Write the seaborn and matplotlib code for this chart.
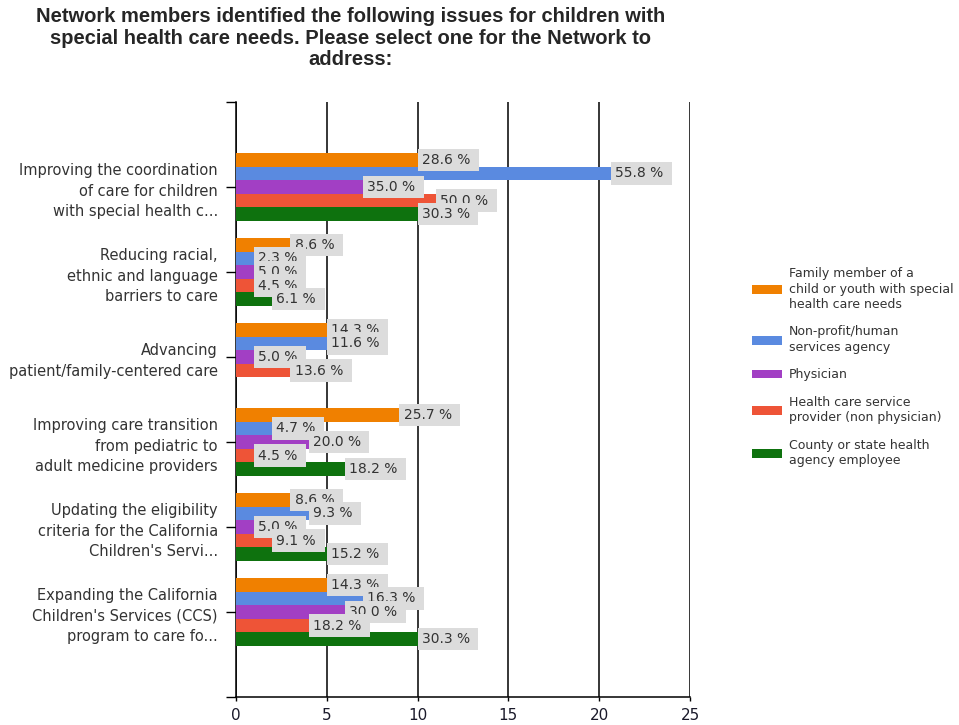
import pandas as pd
import seaborn as sns
import matplotlib.pyplot as plt
from matplotlib.patches import Patch

###########################################################################
# data (bar length = respondent count, label = % of role)

issues = [
    "Improving the coordination\nof care for children\nwith special health c...",
    "Reducing racial,\nethnic and language\nbarriers to care",
    "Advancing\npatient/family-centered care",
    "Improving care transition\nfrom pediatric to\nadult medicine providers",
    "Updating the eligibility\ncriteria for the California\nChildren's Servi...",
    "Expanding the California\nChildren's Services (CCS)\nprogram to care fo...",
]
roles = [
    "Family member of a\nchild or youth with special\nhealth care needs",
    "Non-profit/human\nservices agency",
    "Physician",
    "Health care service\nprovider (non physician)",
    "County or state health\nagency employee",
]
family_counts = [10, 3, 5, 9, 3, 5]
nonprofit_counts = [24, 1, 5, 2, 4, 7]
physician_counts = [7, 1, 1, 4, 1, 6]
provider_counts = [11, 1, 3, 1, 2, 4]
county_counts = [10, 2, 0, 6, 5, 10]

family_pct = [28.6, 8.6, 14.3, 25.7, 8.6, 14.3]
nonprofit_pct = [55.8, 2.3, 11.6, 4.7, 9.3, 16.3]
physician_pct = [35.0, 5.0, 5.0, 20.0, 5.0, 30.0]
provider_pct = [50.0, 4.5, 13.6, 4.5, 9.1, 18.2]
county_pct = [30.3, 6.1, 0.0, 18.2, 15.2, 30.3]

colors = ["#F08000", "#5A8AE0", "#A23FC4", "#EE5437", "#0E720E"]
x_ticks = [0, 5, 10, 15, 20, 25]

title = ("Network members identified the following issues for children with\n"
         "special health care needs. Please select one for the Network to\n"
         "address:")

###########################################################################

def main():
    all_counts = [family_counts, nonprofit_counts, physician_counts, provider_counts, county_counts]
    all_pct = [family_pct, nonprofit_pct, physician_pct, provider_pct, county_pct]

    rows = []
    for r, role in enumerate(roles):
        for i, issue in enumerate(issues):
            rows.append({"issue": issue, "role": role, "count": all_counts[r][i], "pct": all_pct[r][i]})
    df = pd.DataFrame(rows)

    sns.set_style("white")
    plt.rcParams["font.family"] = ["DejaVu Sans"]

    fig = plt.figure(figsize=(9.59, 7.25), dpi=100)
    ax = fig.add_axes([236 / 959, 1 - 697 / 725, 454 / 959, 595 / 725])

    sns.barplot(data=df, x="count", y="issue", hue="role", orient="h",
                order=issues, hue_order=roles, palette=colors, saturation=1,
                width=0.8, legend=False, ax=ax, zorder=3, linewidth=0)

    ax.set_xlim(0, 25)
    ax.set_ylim(6, -1)
    ax.set_xticks(x_ticks)
    ax.set_xticklabels([str(t) for t in x_ticks], fontsize=11, color="#1a1a2a")
    ax.set_yticks(range(-1, 7))
    ax.set_yticklabels([""] + issues + [""], fontsize=10.5, color="#333333", linespacing=1.42)
    ax.tick_params(axis="y", length=7, width=1, color="black", pad=6, left=True)
    ax.tick_params(axis="x", length=3, width=1, color="black", pad=5, bottom=True)
    ax.set_xlabel("")
    ax.set_ylabel("")

    ax.grid(axis="x", color="black", linewidth=1.1, zorder=0)
    ax.set_axisbelow(True)
    for side in ["top", "right"]:
        ax.spines[side].set_visible(False)
    for side in ["left", "bottom"]:
        ax.spines[side].set_color("black")
        ax.spines[side].set_linewidth(1.1)

    # value labels in grey boxes
    box = dict(boxstyle="square,pad=0.3", fc="#dcdcdc", ec="none")
    for r, cont in enumerate(ax.containers):
        for i, bar in enumerate(cont):
            w = bar.get_width()
            if w <= 0:
                continue
            yc = bar.get_y() + bar.get_height() / 2
            txt = f"{all_pct[r][i]:.1f} % "
            if w > 22:
                ax.annotate(txt, (w, yc), xytext=(-3, 0), textcoords="offset points",
                            ha="right", va="center", fontsize=10, color="#333333",
                            bbox=box, zorder=5 + i * 10 + r)
            else:
                ax.annotate(txt, (w, yc), xytext=(3, 0), textcoords="offset points",
                            ha="left", va="center", fontsize=10, color="#333333",
                            bbox=box, zorder=5 + i * 10 + r)

    handles = [Patch(facecolor=c, edgecolor="none") for c in colors]
    leg = fig.legend(handles, roles, loc="center left", bbox_to_anchor=(752 / 959, 1 - 367 / 725),
                     frameon=False, fontsize=9, handlelength=2.4, handleheight=0.7,
                     handletextpad=0.55, labelspacing=1.15, labelcolor="#333333",
                     borderpad=0, borderaxespad=0)
    for t in leg.get_texts():
        t.set_linespacing(1.25)

    fig.text(351 / 959, 1 - 7 / 725, title, ha="center", va="top", fontsize=14.5,
             fontweight="bold", family=["Liberation Sans", "DejaVu Sans"], linespacing=1.17)

    plt.savefig("out.png", dpi=100)
    plt.close()

if __name__ == "__main__":
    main()
